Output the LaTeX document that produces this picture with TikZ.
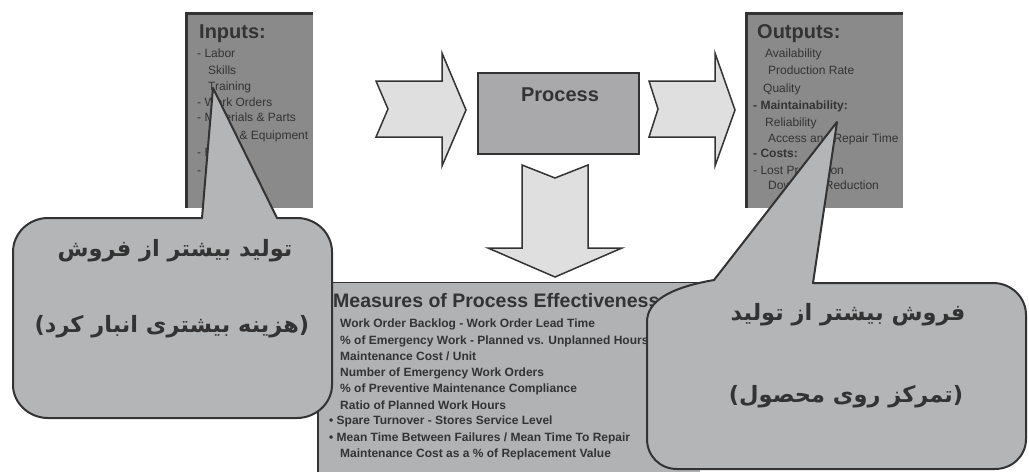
\documentclass[tikz,border=0pt]{standalone}
\usepackage{fontspec}
\setmainfont{Liberation Sans}
\newfontfamily\farsi[Script=Arabic]{DejaVu Sans}
\TeXXeTstate=1

\definecolor{ink}{HTML}{333333}
\definecolor{panelgray}{HTML}{8A8A8A}
\definecolor{procfill}{HTML}{A9A9AB}
\definecolor{arrowfill}{HTML}{DFDFDF}
\definecolor{measfill}{HTML}{B1B2B4}
\definecolor{callfill}{HTML}{B4B5B7}

\begin{document}
\begin{tikzpicture}[x=1pt,y=-1pt,
  frameline/.style={draw=ink,line width=3pt},
  blockarrow/.style={fill=arrowfill,draw=ink,line width=1.5pt,line join=miter},
  callout/.style={fill=callfill,draw=ink,line width=2pt,line join=round},
  heading/.style={anchor=base west,inner sep=0pt,text=ink,font=\bfseries\fontsize{20}{20}\selectfont},
  item/.style={anchor=base west,inner sep=0pt,text=ink,font=\fontsize{12}{12}\selectfont},
  bitem/.style={item,font=\bfseries\fontsize{12}{12}\selectfont},
  measure/.style={anchor=base west,inner sep=0pt,text=ink,font=\bfseries\fontsize{12}{12}\selectfont},
  farsiline/.style={inner sep=0pt,text=ink,font=\farsi\bfseries\fontsize{22.5}{26}\selectfont}]
\useasboundingbox (0,0) rectangle (1029,472);

% ---------- Inputs panel ----------
\fill[panelgray] (185,12) rectangle (313,208);
\draw[frameline] (186.5,208) -- (186.5,13.5) -- (313,13.5);
\node[heading] (intitle) at (199,38) {Inputs:};
\node[item] (in1) at (197,57) {- Labor};
\node[item] (in2) at (208,74) {Skills};
\node[item] (in3) at (208,90) {Training};
\node[item] (in4) at (197,106) {- Work Orders};
\node[item] (in5) at (197,121) {- Materials \& Parts};
\node[item] (in6) at (208,139) {Tools \& Equipment};
\node[item] (in7) at (197,156) {- Budget};
\node[item] (in8) at (197,174) {- Data};

% ---------- Outputs panel ----------
\fill[panelgray] (745,12) rectangle (903,208);
\draw[frameline] (746.5,208) -- (746.5,13.5) -- (903,13.5);
\node[heading] (outtitle) at (757,38) {Outputs:};
\node[item] (out1) at (765,57) {Availability};
\node[item] (out2) at (768,74) {Production Rate};
\node[item] (out3) at (763,92) {Quality};
\node[bitem] (out4) at (753,109) {- Maintainability:};
\node[item] (out5) at (765,126) {Reliability};
\node[item] (out6) at (768,142) {Access and Repair Time};
\node[bitem] (out7) at (753,157) {- Costs:};
\node[item] (out8) at (753,174) {- Lost Production};
\node[item] (out9) at (768,189) {Downtime Reduction};

% ---------- block arrows ----------
\draw[blockarrow] (376,81) -- (442,81) -- (442,53) -- (466,110) -- (442,166)
  -- (442,137) -- (376,137) -- (388,109) -- cycle;
\draw[blockarrow] (649,81) -- (715,81) -- (715,53) -- (735,110) -- (715,166)
  -- (715,137) -- (649,137) -- (658,109) -- cycle;
\draw[blockarrow] (522,165) -- (555,178) -- (588,165) -- (588,248) -- (622,248)
  -- (555,277) -- (488,248) -- (522,248) -- cycle;

% ---------- Process box ----------
\node[fill=procfill,draw=ink,line width=2pt,minimum width=161pt,minimum height=81pt,
  inner sep=0pt] (proc) at (558.5,113.5) {};
\node[anchor=base,inner sep=0pt,text=ink,font=\bfseries\fontsize{20}{20}\selectfont]
  (proclabel) at (560,101) {Process};

% ---------- Measures panel ----------
\fill[measfill] (318,282) rectangle (700,472);
\draw[draw=ink,line width=1.5pt] (318,472) -- (318,282.5) -- (700,282.5);
\node[heading,font=\bfseries\fontsize{19.5}{19.5}\selectfont] (meastitle) at (333,307)
  {Measures of Process Effectiveness};
\node[measure] (m1) at (340,327) {Work Order Backlog - Work Order Lead Time};
\node[measure] (m2) at (340,344) {\% of Emergency Work - Planned vs. Unplanned Hours};
\node[measure] (m3) at (340,360) {Maintenance Cost / Unit};
\node[measure] (m4) at (340,376) {Number of Emergency Work Orders};
\node[measure] (m5) at (340,392) {\% of Preventive Maintenance Compliance};
\node[measure] (m6) at (340,409) {Ratio of Planned Work Hours};
\node[measure] (m7) at (329,424) {\textbullet\ Spare Turnover - Stores Service Level};
\node[measure] (m8) at (329,441) {\textbullet\ Mean Time Between Failures / Mean Time To Repair};
\node[measure] (m9) at (340,457) {Maintenance Cost as a \% of Replacement Value};

% ---------- left callout ----------
\draw[callout] (277,218) -- (297,218) .. controls (316,218) and (332,233) .. (332,252)
  -- (332,385) .. controls (332,403) and (316,418) .. (297,418)
  -- (48,418) .. controls (29,418) and (13,403) .. (13,385)
  -- (13,252) .. controls (13,233) and (29,218) .. (48,218)
  -- (202,218) -- (213,88) -- cycle;
\node[farsiline] (lc1) at (175,251) {\beginR تولید بیشتر از فروش\endR};
\node[farsiline] (lc2) at (172,327) {\beginR (هزینه بیشتری انبار کرد)\endR};

% ---------- right callout ----------
\draw[callout] (813,283) -- (993,283) .. controls (1011,283) and (1026,297) .. (1026,315)
  -- (1026,439) .. controls (1026,456) and (1012,469) .. (995,469)
  -- (677,469) .. controls (660,469) and (647,456) .. (647,439)
  -- (647,322) .. controls (647,302) and (668,288) .. (714,280)
  -- (837,122) -- cycle;
\node[farsiline] (rc1) at (848,315) {\beginR فروش بیشتر از تولید\endR};
\node[farsiline] (rc2) at (846,397) {\beginR (تمرکز روی محصول)\endR};
\end{tikzpicture}
\end{document}
